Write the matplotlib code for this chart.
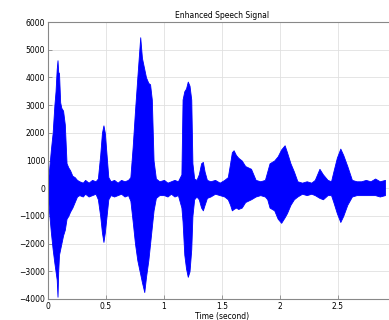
import numpy as np
import matplotlib.pyplot as plt

# envelope of the enhanced speech signal
# time [s], upper peak, lower peak
t = [0.000, 0.010, 0.025, 0.040, 0.055, 0.065, 0.075, 0.082, 0.088, 0.095,
     0.105, 0.115, 0.130, 0.145, 0.160, 0.175, 0.190, 0.210, 0.230, 0.250,
     0.270, 0.300, 0.320, 0.350, 0.380, 0.410, 0.430, 0.450, 0.465, 0.478,
     0.490, 0.505, 0.520, 0.540, 0.570, 0.600, 0.630, 0.660, 0.690, 0.710,
     0.730, 0.750, 0.770, 0.795, 0.810, 0.830, 0.845, 0.865, 0.880, 0.895,
     0.910, 0.930, 0.960, 1.000, 1.030, 1.060, 1.090, 1.120, 1.150, 1.160,
     1.175, 1.190, 1.205, 1.220, 1.235, 1.245, 1.260, 1.280, 1.300, 1.320,
     1.335, 1.350, 1.370, 1.400, 1.440, 1.480, 1.520, 1.550, 1.570, 1.585,
     1.600, 1.620, 1.640, 1.670, 1.700, 1.750, 1.790, 1.830, 1.870, 1.890,
     1.910, 1.950, 1.980, 2.010, 2.040, 2.060, 2.090, 2.120, 2.150, 2.190,
     2.230, 2.270, 2.300, 2.340, 2.370, 2.410, 2.440, 2.460, 2.490, 2.520,
     2.545, 2.580, 2.620, 2.660, 2.700, 2.740, 2.780, 2.820, 2.860, 2.905]
upper = [300, 700, 1400, 2000, 3000, 3500, 4300, 4620, 4200, 4150,
         3100, 2900, 2800, 2300, 900, 750, 650, 450, 400, 300,
         250, 200, 300, 200, 300, 250, 350, 1200, 2000, 2270,
         2000, 1200, 400, 250, 300, 200, 300, 250, 300, 400,
         1500, 2800, 4000, 5450, 4700, 4300, 4000, 3800, 3750, 3200,
         1000, 350, 250, 300, 200, 250, 300, 250, 500, 3200,
         3500, 3600, 3850, 3700, 3200, 900, 350, 300, 500, 900,
         950, 600, 300, 250, 300, 200, 300, 400, 900, 1300,
         1370, 1200, 1100, 1000, 800, 700, 300, 250, 300, 600,
         900, 1000, 1150, 1400, 1550, 1300, 900, 600, 250, 200,
         250, 200, 300, 700, 500, 300, 250, 600, 1100, 1430,
         1200, 800, 300, 250, 250, 300, 250, 350, 250, 300]
lower = [-300, -900, -1600, -2200, -2700, -3000, -3300, -3920, -3000, -2400,
         -2200, -2000, -1700, -1500, -1100, -1000, -850, -700, -500, -300,
         -250, -300, -200, -300, -250, -200, -400, -1000, -1600, -1940,
         -1600, -1000, -400, -250, -300, -250, -200, -300, -250, -450,
         -1200, -2000, -2600, -3100, -3400, -3750, -3200, -2600, -2000, -1400,
         -800, -350, -250, -250, -300, -200, -300, -250, -700, -1200,
         -2400, -2900, -3200, -3000, -2200, -1000, -400, -300, -400, -700,
         -800, -600, -350, -300, -200, -250, -300, -400, -600, -800,
         -750, -700, -750, -700, -500, -400, -300, -250, -300, -400,
         -700, -800, -1100, -1250, -1050, -900, -600, -400, -300, -200,
         -250, -200, -250, -350, -400, -250, -250, -500, -900, -1220,
         -1000, -600, -300, -250, -250, -250, -250, -250, -300, -250]

yticks = [-4000, -3000, -2000, -1000, 0, 1000, 2000, 3000, 4000, 5000, 6000]
xticks = [0, 0.5, 1, 1.5, 2, 2.5]
xlabels = ['0', '0.5', '1', '1.5', '2', '2.5']

fig = plt.figure(figsize=(3.89, 3.2), dpi=100)
ax = fig.add_axes([48/389, 21/320, 348/389, 277/320])

ax.fill_between(t, lower, upper, color='#0000ff', lw=0.6, edgecolor='#0000ff')

ax.set_xlim(0, 3)
ax.set_ylim(-4000, 6000)
ax.set_xticks(xticks)
ax.set_xticklabels(xlabels)
ax.set_yticks(yticks)
ax.tick_params(direction='in', labelsize=5.5, length=3, width=0.5, pad=2,
               color='#777777')
ax.grid(True, linestyle='-', color='#e0e0e0', linewidth=0.6)
ax.set_axisbelow(True)
for s in ax.spines.values():
    s.set_linewidth(0.8)
    s.set_color('#888888')

ax.set_title('Enhanced Speech Signal', fontsize=5.5, pad=3)
ax.set_xlabel('Time (second)', fontsize=5.5, labelpad=1)

fig.savefig('out.png', dpi=100)
